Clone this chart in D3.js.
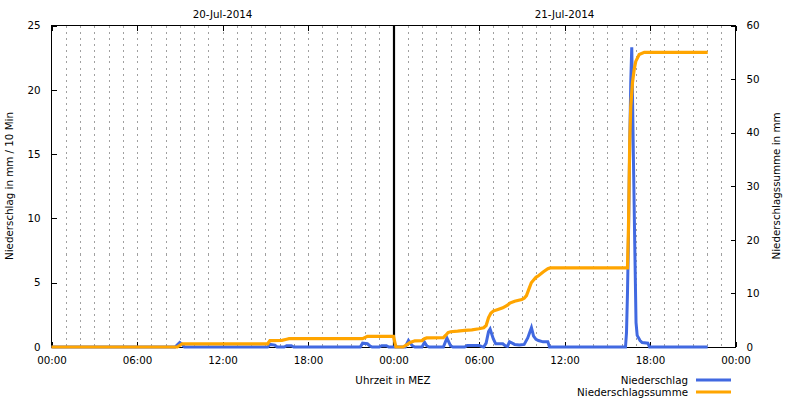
<!DOCTYPE html>
<html>
<head>
<meta charset="utf-8">
<script src="https://cdn.jsdelivr.net/npm/d3@7"></script>
<style>
  html, body { margin: 0; padding: 0; background: #fff; }
  svg { display: block; font-family: "DejaVu Sans", sans-serif; }
</style>
</head>
<body>
<svg id="chart" width="800" height="400"></svg>
<script>
// ---- Data (hours since 20-Jul-2014 00:00 MEZ) ----
// Niederschlag in mm / 10 Min (left axis)
const rainHours = [0, 8.67, 9.0, 9.17, 9.33, 15.17, 15.33, 15.67, 15.83, 16.33, 16.5, 16.83, 17.0,
  21.67, 21.83, 22.17, 22.33, 22.5, 23.0, 23.17, 23.5, 23.67,
  24.83, 25.05, 25.17, 25.33, 25.5, 26.0, 26.18, 26.33, 26.5, 27.5, 27.75, 28.0, 28.17,
  29.0, 29.17, 30.0, 30.17, 30.33, 30.5, 30.67, 30.78, 31.0, 31.17, 31.67, 31.83, 32.0, 32.14, 32.33, 32.5,
  32.83, 33.17, 33.42, 33.68, 33.83, 34.0, 34.17, 34.5, 34.83, 34.95,
  40.28, 40.35, 40.42, 40.49, 40.58, 40.65, 40.72, 40.86, 40.93, 41.02, 41.1, 41.3, 41.45, 41.85, 41.97, 46.05];
const rainMm = [0, 0, 0.35, 0.2, 0, 0, 0.2, 0.15, 0, 0, 0.1, 0.1, 0,
  0, 0.3, 0.25, 0.1, 0, 0, 0.1, 0.1, 0,
  0, 0.5, 0.3, 0.1, 0, 0, 0.37, 0.1, 0, 0, 0.7, 0.1, 0,
  0, 0.12, 0.12, 0.05, 0, 0.3, 1.2, 1.4, 0.65, 0.25, 0.25, 0.1, 0.05, 0.4, 0.3, 0.2,
  0.15, 0.2, 0.7, 1.5, 0.85, 0.6, 0.5, 0.4, 0.4, 0,
  0, 1.1, 4.2, 8.6, 16.0, 20.6, 23.3, 13.0, 8.0, 1.9, 0.9, 0.5, 0.35, 0.3, 0, 0];

// Niederschlagssumme in mm (right axis), daily running total
const sumHours = [0, 8.83, 9.17, 15.17, 15.33, 16.17, 16.5, 16.67, 21.83, 22.17, 24.0, 24.17,
  24.67, 25.0, 25.17, 25.5, 26.0, 26.17, 26.33, 27.5, 27.67, 27.83, 28.0, 28.5, 29.0, 29.5, 30.0, 30.33,
  30.5, 30.67, 30.83, 31.0, 31.33, 31.67, 32.0, 32.17, 32.5, 33.0, 33.17, 33.33, 33.5, 33.67, 33.83,
  34.0, 34.17, 34.5, 34.83, 35.0, 40.42, 40.49, 40.58, 40.65, 40.77, 40.89, 41.0, 41.24, 41.6, 46.05];
const sumMm = [0, 0, 0.6, 0.6, 1.2, 1.25, 1.45, 1.55, 1.55, 2.0, 2.0, 0,
  0, 0.55, 0.85, 1.15, 1.2, 1.55, 1.7, 1.75, 2.2, 2.7, 2.85, 2.95, 3.1, 3.2, 3.4, 3.6,
  4.0, 5.5, 6.3, 6.7, 7.0, 7.3, 7.8, 8.2, 8.55, 8.85, 9.1, 9.6, 10.8, 12.0, 12.5,
  13.0, 13.3, 14.0, 14.6, 14.75, 14.75, 22.5, 38.7, 44.9, 49.3, 51.8, 53.3, 54.6, 55.0, 55.0];

// Ticks and labels
const xTickHours = [0, 6, 12, 18, 24, 30, 36, 42, 48];
const xTickLabels = ["00:00", "06:00", "12:00", "18:00", "00:00", "06:00", "12:00", "18:00", "00:00"];
const dateHours = [12, 36];
const dateLabels = ["20-Jul-2014", "21-Jul-2014"];
const yLeftTicks = [0, 5, 10, 15, 20, 25];
const yRightTicks = [0, 10, 20, 30, 40, 50, 60];
const seriesNames = ["Niederschlag", "Niederschlagssumme"];
const seriesColors = ["#4169e1", "#ffa500"];

// ---- Drawing ----
const FS = 10.3;
const svg = d3.select("#chart");
const L = 51.5, R = 735.5, T = 25.5, B = 347;
const x = d3.scaleLinear().domain([0, 48]).range([L, R]);
const yL = d3.scaleLinear().domain([0, 25]).range([B, T]);
const yR = d3.scaleLinear().domain([0, 60]).range([B, T]);

// hourly dotted grid
const gridHours = d3.range(1, 48);
svg.append("g").selectAll("line").data(gridHours).join("line")
  .attr("x1", d => Math.round(x(d)) + 0.5).attr("x2", d => Math.round(x(d)) + 0.5)
  .attr("y1", T).attr("y2", B)
  .attr("stroke", "#a0a0a0").attr("stroke-width", 1)
  .attr("stroke-dasharray", "2,4")
  .attr("shape-rendering", "crispEdges");

function styleAxis(g) {
  g.attr("font-family", "DejaVu Sans, sans-serif").attr("font-size", FS);
  g.select(".domain").remove();
  g.selectAll(".tick line").attr("stroke", "#000").attr("shape-rendering", "crispEdges");
  g.selectAll(".tick text").attr("fill", "#000");
}

svg.append("g").attr("transform", `translate(0,${B})`)
  .call(d3.axisBottom(x).tickValues(xTickHours).tickFormat((d, i) => xTickLabels[i])
    .tickSizeInner(-5).tickSizeOuter(0).tickPadding(10))
  .call(styleAxis);

svg.append("g").attr("transform", `translate(0,${T})`)
  .call(d3.axisTop(x).tickValues(xTickHours).tickFormat("")
    .tickSizeInner(-5).tickSizeOuter(0))
  .call(styleAxis);

svg.append("g").attr("transform", `translate(${L},0)`)
  .call(d3.axisLeft(yL).tickValues(yLeftTicks).tickFormat(d3.format("d"))
    .tickSizeInner(-5).tickSizeOuter(0).tickPadding(11))
  .call(styleAxis);

svg.append("g").attr("transform", `translate(${R},0)`)
  .call(d3.axisRight(yR).tickValues(yRightTicks).tickFormat(d3.format("d"))
    .tickSizeInner(-5).tickSizeOuter(0).tickPadding(11))
  .call(styleAxis);

// date labels on top
svg.append("g").selectAll("text").data(dateHours).join("text")
  .attr("x", d => x(d)).attr("y", 18)
  .attr("text-anchor", "middle").attr("font-size", FS)
  .text((d, i) => dateLabels[i]);

// border
svg.append("rect").attr("x", L).attr("y", T).attr("width", R - L).attr("height", B - T)
  .attr("fill", "none").attr("stroke", "#000").attr("stroke-width", 1)
  .attr("shape-rendering", "crispEdges");

// midnight line
svg.append("line").attr("x1", x(24) + 0.5).attr("x2", x(24) + 0.5).attr("y1", T).attr("y2", B)
  .attr("stroke", "#000").attr("stroke-width", 2.2);

// series
const rainData = rainHours.map((h, i) => [h, rainMm[i]]);
const sumData = sumHours.map((h, i) => [h, sumMm[i]]);

svg.append("path").datum(rainData)
  .attr("fill", "none").attr("stroke", seriesColors[0]).attr("stroke-width", 3)
  .attr("stroke-linejoin", "miter")
  .attr("d", d3.line().x(d => x(d[0])).y(d => yL(d[1])));

svg.append("path").datum(sumData)
  .attr("fill", "none").attr("stroke", seriesColors[1]).attr("stroke-width", 3.2)
  .attr("stroke-linejoin", "miter")
  .attr("d", d3.line().x(d => x(d[0])).y(d => yR(d[1])));

// axis titles
svg.append("text").attr("transform", "translate(13,186) rotate(-90)")
  .attr("text-anchor", "middle").attr("font-size", FS)
  .text("Niederschlag in mm / 10 Min");
svg.append("text").attr("transform", "translate(780,186) rotate(-90)")
  .attr("text-anchor", "middle").attr("font-size", FS)
  .text("Niederschlagssumme in mm");
svg.append("text").attr("x", 393).attr("y", 384)
  .attr("text-anchor", "middle").attr("font-size", FS)
  .text("Uhrzeit in MEZ");

// legend
const legend = svg.append("g").selectAll("g").data(seriesNames).join("g")
  .attr("transform", (d, i) => `translate(0,${380 + i * 12})`);
legend.append("text").attr("x", 688).attr("y", 3.5)
  .attr("text-anchor", "end").attr("font-size", FS).text(d => d);
legend.append("line").attr("x1", 696).attr("x2", 731).attr("y1", 0).attr("y2", 0)
  .attr("stroke", (d, i) => seriesColors[i]).attr("stroke-width", 3);
</script>
</body>
</html>
